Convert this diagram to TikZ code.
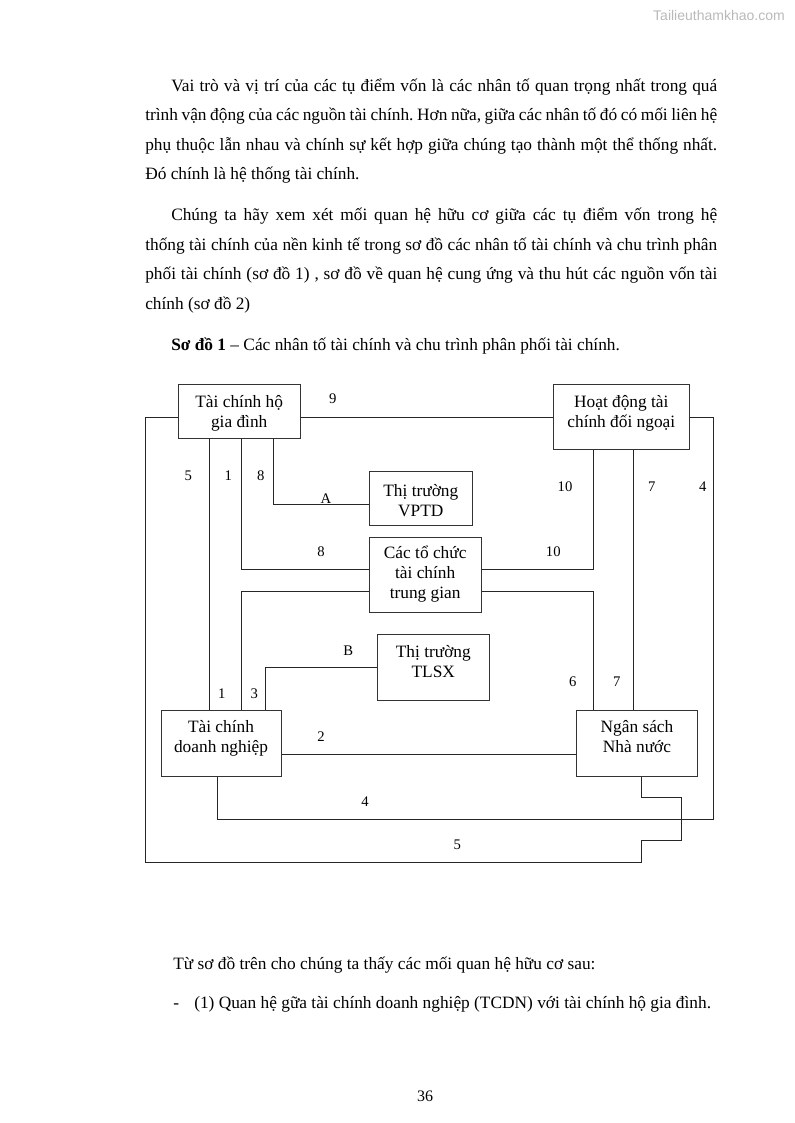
\documentclass[tikz,border=0pt]{standalone}
\usepackage{fontspec}
\setmainfont{Liberation Serif}
\newfontfamily\wmfont{Liberation Sans}
\usetikzlibrary{fit,calc}
\frenchspacing
\begin{document}
\begin{tikzpicture}[x=0.75pt,y=-0.75pt,
  box/.style={draw=black!80, line width=0.8pt, inner sep=0pt},
  conn/.style={draw=black!85, line width=0.75pt},
  btext/.style={align=center, font=\fontsize{13}{15}\selectfont, inner sep=0pt},
  num/.style={font=\fontsize{11}{13}\selectfont, inner sep=0pt},
  body/.style={anchor=base west, inner sep=0pt, font=\fontsize{13}{15}\selectfont},
]
\useasboundingbox (0,0) rectangle (794,1123);

% watermark
\node[anchor=east, font=\wmfont\fontsize{10.5}{12}\selectfont, text=gray!55, inner sep=0pt] (wm) at (785,15.5) {Tailieuthamkhao.com};

% paragraph 1
\node[body] (p1a) at (171,91.5) {\makebox[409.5pt][s]{Vai trò và vị trí của các tụ điểm vốn là các nhân tố quan trọng nhất trong quá}};
\node[body] (p1b) at (145,121) {\makebox[429pt][s]{trình vận động của các nguồn tài chính. Hơn nữa, giữa các nhân tố đó có mối liên hệ}};
\node[body] (p1c) at (145,150.5) {\makebox[429pt][s]{phụ thuộc lẫn nhau và chính sự kết hợp giữa chúng tạo thành một thể thống nhất.}};
\node[body] (p1d) at (145,180) {Đó chính là hệ thống tài chính.};
% paragraph 2
\node[body] (p2a) at (171,220.5) {\makebox[409.5pt][s]{Chúng ta hãy xem xét mối quan hệ hữu cơ giữa các tụ điểm vốn trong hệ}};
\node[body] (p2b) at (145,250) {\makebox[429pt][s]{thống tài chính của nền kinh tế trong sơ đồ các nhân tố tài chính và chu trình phân}};
\node[body] (p2c) at (145,279.5) {\makebox[429pt][s]{phối tài chính (sơ đồ 1) , sơ đồ về quan hệ cung ứng và thu hút các nguồn vốn tài}};
\node[body] (p2d) at (145,309) {chính (sơ đồ 2)};
% caption
\node[body] (cap) at (171,350) {\textbf{Sơ đồ 1} – Các nhân tố tài chính và chu trình phân phối tài chính.};

% boxes
\node[box, fit={(178.5,384.5) (300.5,438.5)}] (hgd) {};
\node[box, fit={(553.5,384.5) (689.5,449.5)}] (hd) {};
\node[box, fit={(369.5,471.5) (472.5,525.5)}] (vptd) {};
\node[box, fit={(369.5,537.5) (481.5,612.5)}] (tctc) {};
\node[box, fit={(377.5,634.5) (489.5,700.5)}] (tlsx) {};
\node[box, fit={(161.5,710.5) (281.5,776.5)}] (tcdn) {};
\node[box, fit={(576.5,710.5) (697.5,776.5)}] (nsnn) {};

\node[btext] (hgdt) at (239.2,413) {Tài chính hộ\\gia đình};
\node[btext] (hdt) at (621.3,413) {Hoạt động tài\\chính đối ngoại};
\node[btext] (vptdt) at (420.8,500.5) {Thị trường\\VPTD};
\node[btext] (tctct) at (425.2,574.5) {Các tổ chức\\tài chính\\trung gian};
\node[btext] (tlsxt) at (433.3,662) {Thị trường\\TLSX};
\node[btext] (tcdnt) at (221,738) {Tài chính\\doanh nghiệp};
\node[btext] (nsnnt) at (637,737) {Ngân sách\\Nhà nước};

% guide coordinates
\coordinate (v5) at (145.5,0);
\coordinate (v1) at (209.5,0);
\coordinate (v8) at (241.5,0);
\coordinate (vA) at (273.5,0);
\coordinate (v3) at (265.5,0);
\coordinate (v10) at (593.5,0);
\coordinate (v7) at (633.5,0);
\coordinate (v4) at (713.5,0);
\coordinate (vtd) at (217.5,0);
\coordinate (vns) at (641.5,0);
\coordinate (vjog) at (681.5,0);
\coordinate (h9) at (0,417.5);
\coordinate (hA) at (0,504.5);
\coordinate (h8) at (0,569.5);
\coordinate (h3) at (0,591.5);
\coordinate (hB) at (0,667.5);
\coordinate (h2) at (0,754.5);
\coordinate (h4) at (0,819.5);
\coordinate (hj1) at (0,797.5);
\coordinate (hj2) at (0,840.5);
\coordinate (h5) at (0,862.5);

% connectors
\draw[conn] (hgd.east |- h9) -- (hd.west |- h9);
\draw[conn] (hgd.west |- h9) -| (v5 |- h5) -| (vns |- hj2) -| (vjog |- hj1) -| (nsnn.south -| vns);
\draw[conn] (hgd.south -| v1) -- (tcdn.north -| v1);
\draw[conn] (hgd.south -| v8) |- (tctc.west |- h8);
\draw[conn] (hgd.south -| vA) |- (vptd.west |- hA);
\draw[conn] (tcdn.north -| v8) |- (tctc.west |- h3);
\draw[conn] (tcdn.north -| v3) |- (tlsx.west |- hB);
\draw[conn] (tctc.east |- h8) -| (hd.south -| v10);
\draw[conn] (tctc.east |- h3) -| (nsnn.north -| v10);
\draw[conn] (hd.south -| v7) -- (nsnn.north -| v7);
\draw[conn] (tcdn.south -| vtd) |- (v4 |- h4) |- (hd.east |- h9);
\draw[conn] (tcdn.east |- h2) -- (nsnn.west |- h2);

% labels
\node[num] (l9) at (332.7,399) {9};
\node[num] (l5a) at (188.3,475.7) {5};
\node[num] (l1a) at (228.3,475.7) {1};
\node[num] (l8a) at (260.7,475.7) {8};
\node[num] (lA) at (326,499) {A};
\node[num] (l8b) at (321,551.7) {8};
\node[num] (l10a) at (565,486.7) {10};
\node[num] (l7a) at (651.7,486.7) {7};
\node[num] (l4a) at (702.7,486.7) {4};
\node[num] (l10b) at (553.3,551.7) {10};
\node[num] (lB) at (348.3,650.7) {B};
\node[num] (l1b) at (221.7,693.3) {1};
\node[num] (l3) at (254.3,693.3) {3};
\node[num] (l6) at (572.7,681.7) {6};
\node[num] (l7b) at (616.7,681.7) {7};
\node[num] (l2) at (321,736.7) {2};
\node[num] (l4b) at (365,801.7) {4};
\node[num] (l5b) at (457.3,845) {5};

% after diagram
\node[body] (q1) at (173,969) {Từ sơ đồ trên cho chúng ta thấy các mối quan hệ hữu cơ sau:};
\node[body] (q2d) at (173,1008.3) {-};
\node[body] (q2) at (194,1008.3) {(1) Quan hệ gữa tài chính doanh nghiệp (TCDN) với tài chính hộ gia đình.};
\node[anchor=base, inner sep=0pt, font=\fontsize{12}{14}\selectfont] (pg) at (425,1101) {36};
\end{tikzpicture}
\end{document}
